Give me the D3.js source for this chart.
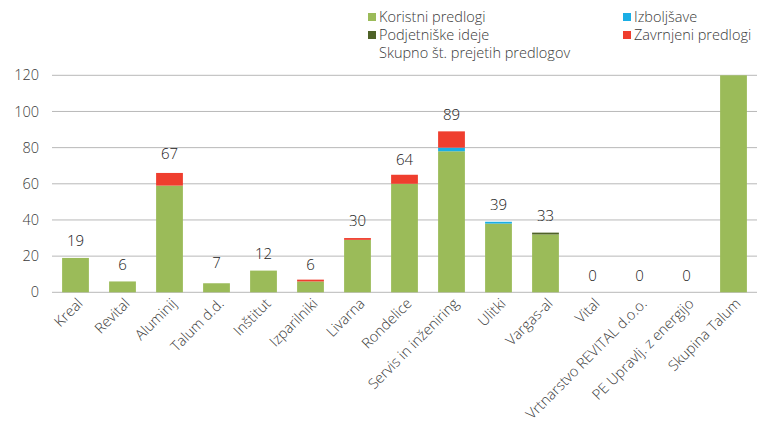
<!DOCTYPE html>
<html><head><meta charset="utf-8">
<script src="https://cdn.jsdelivr.net/npm/d3@7"></script>
<style>body{margin:0;background:#fff}svg{font-family:"Open Sans",sans-serif;font-weight:300}</style>
</head><body><svg id="c" width="771" height="427"></svg>
<script>
const categories=["Kreal","Revital","Aluminij","Talum d.d.","Inštitut","Izparilniki","Livarna","Rondelice","Servis in inženiring","Ulitki","Vargas-al","Vital","Vrtnarstvo REVITAL d.o.o.","PE Upravlj. z energijo","Skupina Talum"];
const koristni=[19,6,59,5,12,6,29,60,78,38,32,0,0,0,120];
const podjetniske=[0,0,0,0,0,0,0,0,0,0,1,0,0,0,0];
const izboljsave=[0,0,0,0,0,0,0,0,2,1,0,0,0,0,0];
const zavrnjeni=[0,0,7,0,0,1,1,5,9,0,0,0,0,0,0];
const skupno=[19,6,67,7,12,6,30,64,89,39,33,0,0,0,null];
const yTicks=[0,20,40,60,80,100,120];
const seriesNames=["Koristni predlogi","Podjetniške ideje","Izboljšave","Zavrnjeni predlogi"];
const colors=["#9BBB59","#4F6228","#1AAEE5","#EF3E2E"];

const svg=d3.select("#c");
const pL=52,pR=757,pT=75.3,pB=292.3;
const x=d3.scaleBand().domain(categories).range([pL,pR]).paddingInner(0.43).paddingOuter(0.215);
const y=d3.scaleLinear().domain([0,120]).range([pB,pT]);
const textCol="#3a3a3a";

svg.append("g").selectAll("line").data(yTicks).join("line")
 .attr("x1",pL).attr("x2",pR).attr("y1",d=>y(d)).attr("y2",d=>y(d))
 .attr("stroke","#B8B8B8").attr("stroke-width",1);
svg.append("g").selectAll("text").data(yTicks).join("text")
 .attr("x",39).attr("y",d=>y(d)).attr("dy","0.35em").attr("text-anchor","end")
 .attr("font-size",14.5).attr("fill",textCol).text(d=>d);

const data=categories.map((c,i)=>({c,v:[koristni[i],podjetniske[i],izboljsave[i],zavrnjeni[i]]}));
const stack=d3.stack().keys([0,1,2,3]).value((d,k)=>d.v[k])(data);
svg.append("g").selectAll("g").data(stack).join("g").attr("fill",(d,i)=>colors[i])
 .selectAll("rect").data(d=>d).join("rect")
 .attr("x",d=>x(d.data.c)).attr("width",x.bandwidth())
 .attr("y",d=>y(Math.min(d[1],120))).attr("height",d=>Math.max(0,y(d[0])-y(Math.min(d[1],120))));

svg.append("g").selectAll("text").data(categories.map((c,i)=>({c,v:skupno[i]})).filter(d=>d.v!==null)).join("text")
 .attr("x",d=>x(d.c)+x.bandwidth()/2).attr("y",d=>y(d.v)-17).attr("dy","0.35em")
 .attr("text-anchor","middle").attr("font-size",15).attr("fill","#222").text(d=>d.v);

svg.append("g").selectAll("text").data(categories).join("text")
 .attr("transform",d=>`translate(${x(d)+x.bandwidth()/2+1},${pB+5}) rotate(-45)`)
 .attr("text-anchor","end").attr("dy","0.7em").attr("font-size",14.5).attr("fill",textCol).text(d=>d);

const leg=[{n:"Koristni predlogi",c:colors[0],x:368,y:17},{n:"Izboljšave",c:colors[2],x:623,y:17},
 {n:"Podjetniške ideje",c:colors[1],x:368,y:35},{n:"Zavrnjeni predlogi",c:colors[3],x:623,y:35},
 {n:"Skupno št. prejetih predlogov",c:null,x:368,y:53}];
const lg=svg.append("g").selectAll("g").data(leg).join("g");
lg.filter(d=>d.c).append("rect").attr("x",d=>d.x).attr("y",d=>d.y-4).attr("width",8).attr("height",8).attr("fill",d=>d.c);
lg.append("text").attr("x",d=>d.x+11).attr("y",d=>d.y).attr("dy","0.35em").attr("font-size",14.5).attr("fill",textCol).text(d=>d.n);
</script></body></html>
